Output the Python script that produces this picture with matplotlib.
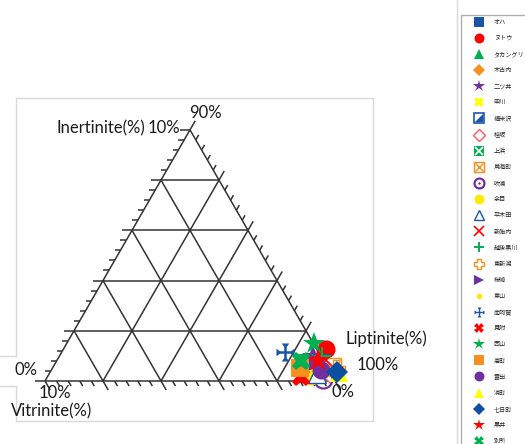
import numpy as np
import matplotlib
matplotlib.use("Agg")
import matplotlib.pyplot as plt
from matplotlib.lines import Line2D
from matplotlib.path import Path
from matplotlib.font_manager import FontProperties

# maceral composition of each sample (percent)
names = ["オハ", "ヌトウ", "タカングリ", "木古内", "二ツ井", "申川", "福米沢", "桂坂",
         "上浜", "鳥海町", "吹浦", "余目", "平木田", "新胎内", "越後黒川", "東新潟",
         "桜崎", "東山", "南阿賀", "見附", "西山", "高町", "雲出", "消町", "七日町",
         "黒井", "別所"]
inertinite = [4.8, 12.7, 5.2, 3.6, 9.6, 6.0, 6.8, 3.6,
              7.2, 5.6, 0.8, 2.0, 2.8, 8.4, 10.0, 4.8,
              7.6, 3.6, 11.6, 1.6, 14.7, 5.2, 4.4, 3.2, 3.6,
              8.0, 8.0]
liptinite = [91.0, 90.5, 92.9, 89.2, 87.6, 96.7, 91.4, 96.5,
             85.7, 96.0, 95.5, 90.7, 92.4, 92.7, 90.5, 97.9,
             90.0, 95.1, 77.0, 87.5, 85.4, 85.3, 93.0, 99.8, 98.9,
             90.1, 84.3]

W, H = 525, 444
S = np.sqrt(3) / 2

BLUE = "#1a56a8"
RED = "#ff0000"
GREEN = "#00b050"
ORANGE = "#f7901e"
PURPLE = "#7030a0"
YELLOW = "#ffff00"
LINE = "#333333"


def tern(top, right):
    """top/right shares (0-1) -> cartesian in a unit triangle"""
    return right + top / 2.0, top * S


def fx(px):
    return px / W


def fy(py):
    return 1 - py / H


fig = plt.figure(figsize=(W / 100, H / 100), dpi=100)
ax = fig.add_axes([0, 0, 1, 1])
ax.set_xlim(-45 / 290, (W - 45) / 290)
ax.set_ylim((381 - H) / 290, 381 / 290)
ax.axis("off")

# grid lines every 20 %
for c in np.arange(0, 1.0, 0.2):
    for p, q in [(tern(c, 0), tern(c, 1 - c)),
                 (tern(0, c), tern(1 - c, c)),
                 (tern(1 - c, 0), tern(0, 1 - c))]:
        ax.plot([p[0], q[0]], [p[1], q[1]], color=LINE, lw=1.1,
                solid_capstyle="butt")

# ticks every 4 %, longer at the grid lines
for c in np.linspace(0, 1, 26):
    major = abs(c * 5 - round(c * 5)) < 1e-6
    ln = 0.036 if major else 0.02
    for (x0, y0), (dx, dy) in [(tern(c, 0), (-1, 0)),
                               (tern(1 - c, c), (0.5, S)),
                               (tern(0, 1 - c), (0.5, -S))]:
        ax.plot([x0, x0 + dx * ln], [y0, y0 + dy * ln], color=LINE, lw=1.1,
                solid_capstyle="butt")

half_tri = Path([(-1, -1), (1, -1), (1, 1), (-1, -1)], closed=True)
arm = np.array([(0.14, 0.14), (0.62, 0.14), (1.0, 0.42), (1.0, -0.42),
                (0.62, -0.14), (0.14, -0.14)])
verts = []
for k in range(4):
    a = np.pi / 2 * k
    rot = np.array([[np.cos(a), -np.sin(a)], [np.sin(a), np.cos(a)]])
    verts.extend((arm @ rot.T).tolist())
flared = Path(verts + [verts[0]], closed=True)

MS = 13
styles = [
    [dict(marker="s", color=BLUE)],
    [dict(marker="o", color=RED)],
    [dict(marker="^", color=GREEN)],
    [dict(marker="D", color=ORANGE, ms=MS * 0.8)],
    [dict(marker="*", color=PURPLE, ms=MS * 1.3)],
    [dict(marker="X", color=YELLOW)],
    [dict(marker="s", mfc="white", mec=BLUE, mew=1.2),
     dict(marker=half_tri, color=BLUE, ms=MS * 0.9)],
    [dict(marker="D", mfc="white", mec="#ff5a5a", mew=1.0, ms=MS * 0.85)],
    [dict(marker="s", color=GREEN),
     dict(marker="x", color="white", mew=1.2, ms=MS * 0.8)],
    [dict(marker="s", mfc="white", mec=ORANGE, mew=1.0),
     dict(marker="x", color=ORANGE, mew=1.0, ms=MS * 0.9)],
    [dict(marker="o", mfc="none", mec=PURPLE, mew=1.6),
     dict(marker="o", color=PURPLE, ms=MS * 0.25)],
    [dict(marker="o", color="#ffeb00")],
    [dict(marker="^", mfc="white", mec=BLUE, mew=1.0)],
    [dict(marker="x", color=RED, mew=1.2)],
    [dict(marker="+", color=GREEN, mew=1.4)],
    [dict(marker="P", mfc="white", mec=ORANGE, mew=1.0)],
    [dict(marker=">", color=PURPLE)],
    [dict(marker="o", color="#ffe600", ms=MS * 0.55)],
    [dict(marker=flared, color=BLUE)],
    [dict(marker="X", color=RED)],
    [dict(marker="*", color=GREEN, ms=MS * 1.3)],
    [dict(marker="s", color=ORANGE)],
    [dict(marker="o", color=PURPLE)],
    [dict(marker="^", color=YELLOW)],
    [dict(marker="D", color="#0b4ea2", ms=MS * 0.85)],
    [dict(marker="*", color=RED, ms=MS * 1.3)],
    [dict(marker="X", color=GREEN)],
]

handles = []
for name, ine, lip, parts in zip(names, inertinite, liptinite, styles):
    x, y = tern(ine / 100.0, lip / 100.0)
    hs = []
    for st in parts:
        st = dict(st)
        st.setdefault("ms", MS)
        st.setdefault("mew", 0)
        h, = ax.plot([x], [y], ls="none", clip_on=False, **st)
        hs.append(h)
    handles.append(hs[0] if len(hs) == 1 else tuple(hs))

# axis captions
lab = dict(family=["Lato", "DejaVu Sans"], fontsize=12, color="#1a1a1a",
           transform=fig.transFigure, va="center")
fig.text(fx(101), fy(128), "Inertinite(%)", ha="center", **lab)
fig.text(fx(164), fy(128), "10%", ha="center", **lab)
fig.text(fx(205), fy(113), "90%", ha="center", **lab)
fig.text(fx(26), fy(370), "0%", ha="center", **lab)
fig.text(fx(55), fy(393), "10%", ha="center", **lab)
fig.text(fx(52), fy(411), "Vitrinite(%)", ha="center", **lab)
fig.text(fx(346), fy(339), "Liptinite(%)", ha="left", **lab)
fig.text(fx(378), fy(365), "100%", ha="center", **lab)
fig.text(fx(343), fy(392), "0%", ha="center", **lab)

# frame around the chart area and neighbouring panel edges
edge = "#d9d9d9"
for (x0, y0), (x1, y1) in [((16, 98), (373, 98)), ((373, 98), (373, 421)),
                           ((16, 421), (373, 421)), ((16, 98), (16, 356)),
                           ((16, 386), (16, 421)), ((0, 356), (16, 356)),
                           ((0, 386), (16, 386)), ((457, 0), (457, H))]:
    fig.add_artist(Line2D([fx(x0), fx(x1)], [fy(y0), fy(y1)], color=edge,
                          lw=1.0, transform=fig.transFigure))

FS = 4.4
leg = fig.legend(handles, names, loc="upper left",
                 bbox_to_anchor=(fx(461), fy(15)), bbox_transform=fig.transFigure,
                 borderaxespad=0, frameon=True, fancybox=False,
                 edgecolor="#9a9a9a", markerscale=0.55,
                 prop=FontProperties(family="Noto Sans CJK JP", size=FS),
                 labelspacing=1.33, handlelength=5.0, handletextpad=-0.1,
                 borderpad=0.46, numpoints=1)
leg.get_frame().set_linewidth(1.0)
for t in leg.get_texts():
    t.set_color("#222222")

fig.savefig("out.png", dpi=100)
